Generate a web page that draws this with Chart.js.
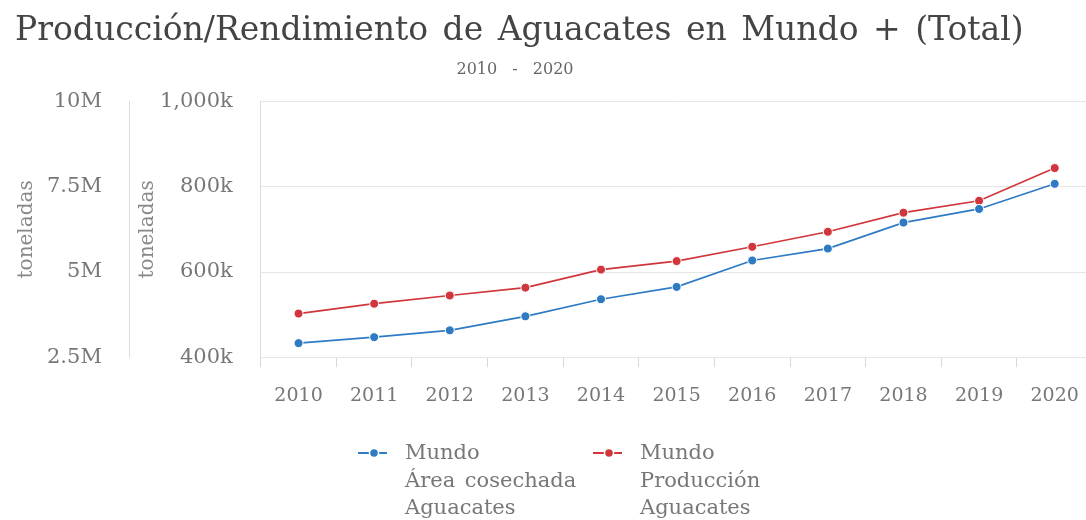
<!DOCTYPE html>
<html>
<head>
<meta charset="utf-8">
<script src="https://cdn.jsdelivr.net/npm/chart.js@4.4.0/dist/chart.umd.min.js"></script>
<style>
  html, body { margin: 0; padding: 0; background: #fff; overflow: hidden; }
  #wrap { position: relative; width: 1098px; height: 520px; }
  #subtitle { position: absolute; left: 0; top: 59px; width: 1030px; text-align: center;
    font-family: 'DejaVu Serif'; font-size: 16px; line-height: 20px; color: #666; word-spacing: 10px; }
  #legend { position: absolute; left: 356px; top: 439px; display: flex;
    font-family: 'DejaVu Serif'; font-size: 21px; line-height: 27.5px; color: #777; word-spacing: 3px; }
  .item { display: flex; align-items: flex-start; width: 235px; }
  .item canvas { margin-top: 8px; margin-right: 17px; }
</style>
</head>
<body>
<div id="wrap">
  <canvas id="chart" width="1098" height="520"></canvas>
  <div id="subtitle">2010 - 2020</div>
  <div id="legend"></div>
</div>
<script>
// datos
const years = ["2010", "2011", "2012", "2013", "2014", "2015", "2016", "2017", "2018", "2019", "2020"];
const areaCosechada = [433000, 447000, 463000, 496000, 536000, 565000, 627000, 655000, 716000, 748000, 807000];
const produccion = [3780000, 4070000, 4310000, 4540000, 5070000, 5320000, 5740000, 6180000, 6740000, 7090000, 8050000];
const seriesNames = [
  ["Mundo", "Área cosechada", "Aguacates"],
  ["Mundo", "Producción", "Aguacates"],
];
const seriesColors = ["#2e7bc4", "#d0363b"];
const unitLabel = "toneladas";

const FONT = "'DejaVu Serif'";

// espacios algo más anchos en el título, como en el original
const wordSpacing = {
  id: "wordSpacing",
  beforeDraw(chart) {
    chart.ctx.wordSpacing = "4px";
  },
};

const ctx = document.getElementById("chart").getContext("2d");

new Chart(ctx, {
  type: "line",
  data: {
    labels: years,
    datasets: [
      {
        label: seriesNames[0].join(" "),
        data: areaCosechada,
        yAxisID: "yArea",
        borderColor: seriesColors[0],
        backgroundColor: seriesColors[0],
        borderWidth: 1.7,
        pointRadius: 4.5,
        pointBorderColor: "#fff",
        pointBorderWidth: 1,
        tension: 0,
      },
      {
        label: seriesNames[1].join(" "),
        data: produccion,
        yAxisID: "yProd",
        borderColor: seriesColors[1],
        backgroundColor: seriesColors[1],
        borderWidth: 1.7,
        pointRadius: 4.5,
        pointBorderColor: "#fff",
        pointBorderWidth: 1,
        tension: 0,
      },
    ],
  },
  plugins: [wordSpacing],
  options: {
    responsive: false,
    animation: false,
    layout: { padding: { left: 15, right: 0, top: 0, bottom: 96 } },
    plugins: {
      legend: { display: false },
      tooltip: { enabled: false },
      title: {
        display: true,
        text: "Producción/Rendimiento de Aguacates en Mundo + (Total)",
        align: "start",
        color: "#444",
        font: { family: FONT, size: 33, weight: "normal" },
        padding: { top: 12, bottom: 50 },
      },
    },
    scales: {
      x: {
        offset: true,
        grid: { offset: true, drawOnChartArea: false, tickLength: 10, color: "#d8d8d8" },
        border: { display: false },
        ticks: { color: "#777", padding: 17, maxRotation: 0, font: { family: FONT, size: 19 } },
      },
      yProd: {
        position: "left",
        weight: 2,
        min: 2500000,
        max: 10000000,
        ticks: {
          stepSize: 2500000,
          padding: 28,
          color: "#777",
          font: { family: FONT, size: 21 },
          callback: (v) => v / 1000000 + "M",
        },
        grid: { drawOnChartArea: false, drawTicks: false },
        border: { display: true, color: "#dcdcdc" },
        title: {
          display: true,
          text: unitLabel,
          color: "#888",
          padding: { top: 0, bottom: -20 },
          font: { family: FONT, size: 20 },
        },
      },
      yArea: {
        position: "left",
        weight: 1,
        min: 400000,
        max: 1000000,
        ticks: {
          stepSize: 200000,
          padding: 28,
          color: "#777",
          font: { family: FONT, size: 21 },
          callback: (v) => (v / 1000).toLocaleString("en-US") + "k",
        },
        grid: { color: "#e6e6e6", drawTicks: false },
        border: { display: true, color: "#dcdcdc" },
        title: {
          display: true,
          text: unitLabel,
          color: "#888",
          padding: { top: 6, bottom: -28 },
          font: { family: FONT, size: 20 },
        },
      },
    },
  },
});

// leyenda en HTML (texto en varias líneas)
const legend = document.getElementById("legend");
seriesNames.forEach((lines, i) => {
  const item = document.createElement("div");
  item.className = "item";
  const mark = document.createElement("canvas");
  mark.width = 32;
  mark.height = 12;
  const m = mark.getContext("2d");
  m.strokeStyle = seriesColors[i];
  m.lineWidth = 2;
  m.beginPath();
  m.moveTo(2, 6);
  m.lineTo(31, 6);
  m.stroke();
  m.beginPath();
  m.arc(18, 6, 4.5, 0, Math.PI * 2);
  m.fillStyle = seriesColors[i];
  m.fill();
  m.strokeStyle = "#fff";
  m.lineWidth = 1.5;
  m.stroke();
  const text = document.createElement("div");
  text.innerHTML = lines.join("<br>");
  item.appendChild(mark);
  item.appendChild(text);
  legend.appendChild(item);
});
</script>
</body>
</html>
